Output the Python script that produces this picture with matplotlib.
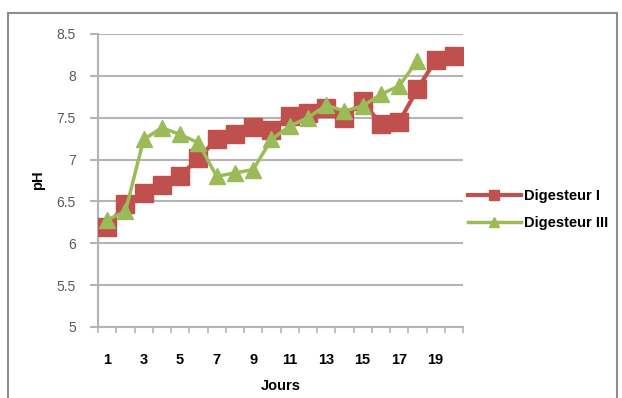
import matplotlib
matplotlib.use('Agg')
import matplotlib.pyplot as plt
from matplotlib.patches import Rectangle

# pH readings per day for each digester
jours = list(range(1, 21))
digesteur_1 = [6.2, 6.47, 6.6, 6.7, 6.8, 7.02, 7.24, 7.3, 7.39, 7.35,
               7.52, 7.56, 7.62, 7.5, 7.7, 7.42, 7.45, 7.84, 8.19, 8.24]
jours_3 = list(range(1, 19))
digesteur_3 = [6.28, 6.38, 7.24, 7.38, 7.3, 7.2, 6.8, 6.84, 6.88, 7.24,
               7.4, 7.5, 7.65, 7.58, 7.64, 7.78, 7.88, 8.18]
y_ticks = [5, 5.5, 6, 6.5, 7, 7.5, 8, 8.5]
x_labels = [1, 3, 5, 7, 9, 11, 13, 15, 17, 19]

plt.rcParams['font.family'] = ['Liberation Sans', 'DejaVu Sans']

fig = plt.figure(figsize=(6.22, 3.98), dpi=100)
fig.patches.append(Rectangle((8 / 622, -0.1), 609 / 622, 1.1 - 13 / 398,
                             transform=fig.transFigure, fill=False,
                             edgecolor='#8c8c8c', linewidth=1.5))

ax = fig.add_axes([98 / 622, 1 - 327 / 398, 365 / 622, 293 / 398])

red = '#c0504d'
green = '#9bbb59'
ax.plot(jours, digesteur_1, color=red, linewidth=3, marker='s',
        markersize=12.5, label='Digesteur I', zorder=3)
ax.plot(jours_3, digesteur_3, color=green, linewidth=2.5, marker='^',
        markersize=12, label='Digesteur III', zorder=4)

ax.set_xlim(0.5, 20.5)
ax.set_ylim(5, 8.5)
ax.set_yticks(y_ticks)
ax.set_yticklabels([f'{v:g}' for v in y_ticks], color='#595959', fontsize=10)
ax.yaxis.grid(True, color='#b4b4b4', linewidth=1.5)
ax.set_axisbelow(True)

ax.set_xticks(x_labels)
ax.set_xticklabels([str(v) for v in x_labels], fontweight='bold', fontsize=10.5)
ax.set_xticks([v + 0.5 for v in range(0, 21)], minor=True)
ax.tick_params(axis='x', which='major', length=0, pad=19)
ax.tick_params(axis='x', which='minor', length=4, color='#b4b4b4', width=1.2)
ax.tick_params(axis='y', length=6, color='#b4b4b4', width=1.5, pad=10)

for side in ['top', 'right']:
    ax.spines[side].set_visible(False)
ax.spines['left'].set_color('#b4b4b4')
ax.spines['left'].set_linewidth(1.5)
ax.spines['bottom'].set_color('#b4b4b4')
ax.spines['bottom'].set_linewidth(1.5)

ax.set_xlabel('Jours', fontweight='bold', fontsize=10.5, labelpad=8)
ax.set_ylabel('pH', fontweight='bold', fontsize=10.5, labelpad=8)

leg = fig.legend(loc='upper left', bbox_to_anchor=(455 / 622, 1 - 176 / 398),
                 frameon=False, handlelength=3.6, handletextpad=0.2,
                 labelspacing=0.9, markerscale=0.55,
                 prop={'weight': 'bold', 'size': 10.5})

fig.savefig('out.png', dpi=100)
